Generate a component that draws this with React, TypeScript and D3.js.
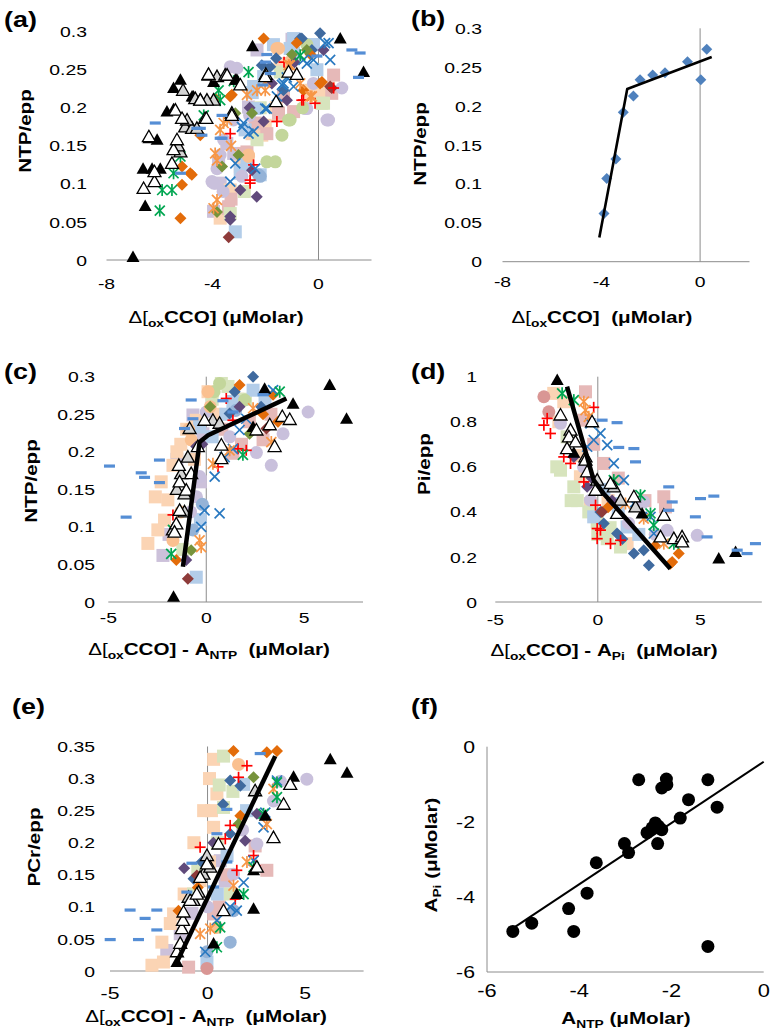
import React from "react";
import * as d3 from "d3";

type Pt = [number, number];

// ---------------- Panel (a): NTP/epp vs Δ[oxCCO] ----------------
const A_SERIES: Record<string, Pt[]> = {
  lavSquare: [[-3.96, 0.064], [-2.32, 0.276], [-3.71, 0.101], [-1.0, 0.29], [-3.2, 0.14], [-3.77, 0.127], [-3.46, 0.153], [-2.64, 0.201]],
  peachSquare: [[0.06, 0.223], [0.38, 0.226], [-2.51, 0.166], [-2.01, 0.177], [-3.71, 0.055], [-2.95, 0.123], [-0.3, 0.22], [-1.6, 0.2], [-2.14, 0.164], [-1.51, 0.19], [-0.38, 0.223], [0.0, 0.223], [-3.33, 0.092], [-1.45, 0.258]],
  pinkSquare: [[-3.39, 0.07], [-2.7, 0.142], [-2.39, 0.18], [-1.51, 0.193], [-0.94, 0.195], [0.57, 0.243], [0.5, 0.219], [-1.95, 0.166], [-3.3, 0.08], [-2.83, 0.14], [-1.32, 0.215], [-3.4, 0.068]],
  greenSquare: [[0.13, 0.206], [-3.33, 0.061], [-2.32, 0.158], [-1.44, 0.247], [-2.8, 0.09], [0.19, 0.206], [-2.2, 0.2]],
  blueSquare: [[-3.14, 0.037], [-2.7, 0.127], [-2.39, 0.199], [-2.07, 0.241], [-1.07, 0.278], [-0.19, 0.283], [-0.06, 0.25], [-2.2, 0.112], [-2.95, 0.114], [-0.94, 0.291], [-2.5, 0.22], [-2.45, 0.228], [-1.7, 0.283], [-0.25, 0.283], [-0.94, 0.272], [-2.77, 0.171], [-2.95, 0.118]],
  lavCircle: [[-3.33, 0.254], [-4.02, 0.103], [-3.83, 0.12], [-3.71, 0.138], [-3.58, 0.158], [0.38, 0.184], [0.88, 0.226], [-0.5, 0.199], [-0.19, 0.232], [-2.89, 0.11], [-3.6, 0.09], [-2.6, 0.19], [-3.95, 0.101], [-3.21, 0.184], [-3.08, 0.252], [0.32, 0.184], [-0.44, 0.199]],
  greenCircle: [[-1.38, 0.164], [-1.95, 0.129], [-1.07, 0.184], [-0.44, 0.283], [-0.6, 0.2], [-1.63, 0.129], [-1.13, 0.184]],
  peachCircle: [[-1.57, 0.278], [-2.64, 0.136], [-1.1, 0.26], [-1.51, 0.278], [-2.64, 0.138]],
  blueCircle: [[-2.2, 0.11], [-2.26, 0.112]],
  darkBlueDiamond: [[0.06, 0.298], [-0.69, 0.291], [-1.82, 0.254], [-2.14, 0.256], [-1.32, 0.223], [-0.25, 0.276], [-1.6, 0.265], [-0.63, 0.291]],
  orangeDiamond: [[-5.21, 0.055], [-5.15, 0.099], [-4.84, 0.114], [-5.15, 0.123], [-3.27, 0.217], [-2.07, 0.291], [-3.89, 0.212], [-4.46, 0.164], [-0.57, 0.223], [-0.82, 0.285], [0.06, 0.232], [-0.3, 0.27], [-3.33, 0.215], [-4.78, 0.112], [0.13, 0.234]],
  purpleDiamond: [[-3.33, 0.057], [-2.95, 0.092], [-2.07, 0.182], [-1.19, 0.21], [0.19, 0.276], [-2.6, 0.2], [-0.9, 0.26], [-3.33, 0.053], [-2.51, 0.118], [-2.33, 0.083], [-1.76, 0.232]],
  redDiamond: [[-3.39, 0.03], [0.5, 0.226], [0.44, 0.228]],
  oliveDiamond: [[-3.64, 0.123], [-2.51, 0.193], [-0.44, 0.276], [-1.0, 0.27], [-3.02, 0.138], [-3.14, 0.193], [-3.83, 0.063]],
  redPlus: [[-2.58, 0.105], [-2.45, 0.125], [-1.57, 0.182], [-0.57, 0.21], [-0.13, 0.206], [0.57, 0.226], [-3.33, 0.166], [-1.3, 0.26], [-2.58, 0.101], [-0.63, 0.21]],
  blueX: [[-3.33, 0.103], [-3.14, 0.127], [-2.39, 0.12], [-2.83, 0.18], [-2.45, 0.169], [-1.95, 0.199], [-1.57, 0.215], [-1.32, 0.232], [-0.94, 0.228], [-0.57, 0.263], [-0.19, 0.263], [0.44, 0.263], [0.38, 0.285], [-1.2, 0.24], [-2.89, 0.175], [-2.64, 0.166], [-2.01, 0.199], [-1.38, 0.23], [-0.44, 0.258], [0.25, 0.285]],
  orangeStar: [[-3.83, 0.131], [-3.83, 0.079], [-3.96, 0.068], [-3.45, 0.184], [-3.71, 0.171], [-2.32, 0.223], [-2.7, 0.217], [-2.01, 0.234], [-0.69, 0.232], [-0.25, 0.215], [-1.07, 0.256], [-3.3, 0.15], [-3.9, 0.14], [-3.58, 0.18], [-2.01, 0.223], [-1.13, 0.256], [-0.31, 0.215]],
  greenStar: [[-5.99, 0.065], [-5.9, 0.092], [-5.53, 0.092], [-5.21, 0.136], [-5.47, 0.114], [-4.33, 0.19], [-3.71, 0.21], [-3.77, 0.223], [-2.64, 0.247], [-0.69, 0.269], [-3.2, 0.235]],
  blackTri: [[-7.0, 0.004], [-6.54, 0.071], [-6.62, 0.12], [-6.28, 0.12], [-5.97, 0.12], [-6.4, 0.16], [-6.09, 0.158], [-5.72, 0.195], [-5.47, 0.198], [-5.47, 0.226], [-5.21, 0.237], [-4.77, 0.215], [-3.96, 0.234], [-3.08, 0.237], [-2.49, 0.281], [0.82, 0.291], [1.7, 0.247], [-4.72, 0.215], [-3.14, 0.237]],
  grayTri: [[-5.03, 0.175], [-4.77, 0.173], [-5.21, 0.142], [-5.11, 0.223], [-3.83, 0.241], [-4.96, 0.184], [-3.96, 0.21], [-4.65, 0.212], [-4.59, 0.173], [-5.3, 0.15], [-4.15, 0.243], [-3.52, 0.243], [-4.46, 0.21], [-4.21, 0.21], [-4.28, 0.186]],
  whiteTri: [[-6.6, 0.094], [-6.19, 0.103], [-6.19, 0.116], [-6.4, 0.162], [-5.53, 0.127], [-5.47, 0.145], [-5.34, 0.158], [-5.4, 0.197], [-5.15, 0.186], [-4.46, 0.21], [-4.23, 0.186], [-4.15, 0.244], [-3.45, 0.243], [-3.27, 0.193], [-2.95, 0.23], [-1.99, 0.244], [-1.6, 0.208], [-1.13, 0.247], [-0.82, 0.244], [-2.01, 0.241], [-3.27, 0.19]],
  blueDash: [[-6.16, 0.18], [-5.21, 0.114], [-4.59, 0.173], [-4.4, 0.164], [-3.64, 0.19], [-3.64, 0.16], [-1.95, 0.27], [1.26, 0.276], [1.57, 0.272], [1.51, 0.24], [-0.06, 0.268], [-2.1, 0.23], [-2.0, 0.26], [-3.71, 0.16], [-4.46, 0.173], [-1.82, 0.245]],
};

// ---------------- Panel (b): single subject ----------------
const B_POINTS: Pt[] = [[-3.89, 0.062], [-3.78, 0.107], [-3.41, 0.132], [-3.11, 0.192], [-2.7, 0.213], [-2.43, 0.234], [-1.92, 0.24], [-1.42, 0.243], [-0.51, 0.257], [0.03, 0.234], [0.27, 0.273]];
const B_FIT: Pt[] = [[-4.08, 0.031], [-2.95, 0.222], [0.47, 0.263]];

// ---------------- Panel (c): NTP/epp vs Δ[oxCCO] - A_NTP ----------------
const C_SERIES: Record<string, Pt[]> = {
  lavSquare: [[-2.21, 0.062], [-0.68, 0.249], [-0.17, 0.224], [-1.9, 0.09], [-1.5, 0.19], [-0.3, 0.16]],
  peachSquare: [[-2.98, 0.078], [-2.13, 0.109], [-1.96, 0.136], [-1.7, 0.182], [0.09, 0.28], [-0.51, 0.242], [-2.47, 0.096], [-2.6, 0.14], [-2.3, 0.16], [-1.5, 0.2], [-1.0, 0.23], [-0.6, 0.19], [-1.3, 0.21], [0.5, 0.25], [1.6, 0.27]],
  pinkSquare: [[2.9, 0.216], [1.36, 0.198], [2.2, 0.24], [1.8, 0.21], [3.3, 0.25], [0.8, 0.23]],
  greenSquare: [[0.77, 0.291], [1.11, 0.287], [-1.2, 0.07], [0.3, 0.27], [2.0, 0.27]],
  blueSquare: [[-0.51, 0.033], [-0.34, 0.233], [2.39, 0.282], [1.36, 0.267], [-0.3, 0.11], [1.0, 0.25], [3.0, 0.27], [0.3, 0.22]],
  lavCircle: [[5.2, 0.253], [3.92, 0.224], [3.32, 0.182], [2.56, 0.199], [0.0, 0.253], [-0.34, 0.167], [-0.5, 0.14], [1.2, 0.22], [-0.8, 0.12]],
  greenCircle: [[0.68, 0.291], [1.96, 0.269], [0.4, 0.28]],
  peachCircle: [[0.09, 0.28], [-0.77, 0.216], [-1.7, 0.082], [-0.9, 0.23], [0.2, 0.26], [-1.3, 0.12]],
  blueCircle: [[-0.68, 0.096], [-0.2, 0.13], [1.5, 0.255]],
  darkBlueDiamond: [[2.39, 0.3], [1.19, 0.251], [1.45, 0.28], [2.8, 0.26]],
  orangeDiamond: [[1.7, 0.289], [3.41, 0.276], [3.66, 0.24], [-1.53, 0.056], [2.9, 0.25]],
  purpleDiamond: [[-1.02, 0.056], [-0.51, 0.207], [1.7, 0.26], [-0.2, 0.21]],
  redDiamond: [[-0.94, 0.031], [3.07, 0.231]],
  oliveDiamond: [[-0.77, 0.069], [2.21, 0.224], [0.2, 0.26]],
  redPlus: [[-1.7, 0.116], [0.6, 0.18], [1.36, 0.242], [1.62, 0.204], [2.04, 0.202], [1.02, 0.271]],
  blueX: [[-0.26, 0.1], [-0.09, 0.122], [0.68, 0.118], [0.43, 0.167], [0.94, 0.193], [1.36, 0.204], [1.7, 0.229], [3.41, 0.282], [2.04, 0.244]],
  orangeStar: [[-0.34, 0.082], [-0.26, 0.073], [0.34, 0.184], [1.19, 0.202], [3.32, 0.213], [2.39, 0.258]],
  greenStar: [[-1.79, 0.064], [1.87, 0.196], [3.75, 0.28], [-1.7, 0.096]],
  blackTri: [[-1.67, 0.007], [6.3, 0.289], [7.16, 0.244], [4.43, 0.264], [2.98, 0.284], [2.39, 0.233]],
  grayTri: [[-0.85, 0.231], [0.34, 0.242], [-1.28, 0.171], [-1.11, 0.144], [-1.7, 0.096], [-1.11, 0.12], [-0.94, 0.193], [0.68, 0.238], [-1.5, 0.15]],
  whiteTri: [[-1.4, 0.182], [-1.36, 0.16], [-1.53, 0.104], [-1.62, 0.093], [-1.36, 0.122], [-1.02, 0.149], [-0.77, 0.171], [-0.43, 0.207], [-0.09, 0.242], [0.77, 0.209], [0.77, 0.191], [3.24, 0.236], [3.88, 0.247], [3.49, 0.207], [4.26, 0.243], [2.56, 0.229]],
  blueDash: [[-4.94, 0.181], [-3.32, 0.172], [-3.15, 0.166], [-2.39, 0.159], [-4.09, 0.113], [-2.39, 0.189], [-0.77, 0.269], [0.85, 0.268], [1.36, 0.253], [2.9, 0.276], [-0.68, 0.244], [-1.11, 0.231]],
};
const C_FIT: Pt[] = [[-1.19, 0.047], [-0.34, 0.213], [0.09, 0.222], [4.09, 0.271]];

// ---------------- Panel (d): Pi/epp vs Δ[oxCCO] - A_Pi ----------------
const D_SERIES: Record<string, Pt[]> = {
  peachSquare: [[-2.15, 0.926], [-1.66, 0.889], [1.43, 0.259], [-0.36, 0.437], [-0.85, 0.556], [-1.9, 0.8], [-1.0, 0.65], [0.5, 0.45]],
  pinkSquare: [[-0.6, 0.933], [-0.68, 0.807], [3.22, 0.467], [3.3, 0.422], [0.29, 0.615], [-0.2, 0.7], [1.0, 0.55], [2.3, 0.45]],
  greenSquare: [[-1.82, 0.585], [-1.17, 0.511], [-0.44, 0.4], [-0.03, 0.356], [0.46, 0.281], [1.11, 0.244], [-1.5, 0.733], [-1.3, 0.45], [-2.0, 0.6], [-1.0, 0.45], [0.0, 0.3], [0.6, 0.33]],
  blueSquare: [[0.78, 0.437], [1.43, 0.333], [-0.2, 0.378], [0.3, 0.5], [1.0, 0.4], [2.0, 0.3]],
  lavCircle: [[2.24, 0.444], [3.38, 0.319], [4.85, 0.296], [-0.36, 0.452], [-1.82, 0.793], [-0.7, 0.6], [1.5, 0.35], [2.8, 0.3]],
  roseCircle: [[-2.63, 0.911], [-2.39, 0.844]],
  darkBlueDiamond: [[0.13, 0.4], [0.94, 0.304], [1.76, 0.215], [2.49, 0.163], [2.24, 0.23], [0.29, 0.348], [1.2, 0.28]],
  orangeDiamond: [[3.63, 0.178], [3.95, 0.215], [3.54, 0.17], [0.5, 0.42], [2.8, 0.25]],
  purpleDiamond: [[-1.17, 0.644], [-0.52, 0.511], [-0.3, 0.55], [0.7, 0.45]],
  redDiamond: [[0.2, 0.4]],
  redPlus: [[-2.63, 0.785], [-2.47, 0.815], [-2.31, 0.748], [-1.66, 0.644], [-1.33, 0.615], [-0.11, 0.43], [-0.03, 0.326], [-0.03, 0.281], [0.13, 0.319], [0.62, 0.259], [1.11, 0.274], [-0.68, 0.533], [-0.2, 0.864]],
  blueX: [[-0.52, 0.689], [-0.2, 0.719], [0.13, 0.748], [0.46, 0.696], [0.78, 0.615], [1.27, 0.541], [1.76, 0.437], [2.57, 0.378], [2.73, 0.304], [-0.36, 0.793]],
  orangeStar: [[-0.68, 0.889], [-0.6, 0.852], [-0.44, 0.822], [1.35, 0.437], [2.24, 0.37], [3.22, 0.259]],
  greenStar: [[-1.74, 0.926], [-1.17, 0.896], [2.08, 0.474], [2.57, 0.393], [2.73, 0.341], [3.71, 0.259], [0.78, 0.541]],
  blackTri: [[-1.98, 0.985], [-1.17, 0.662], [2.16, 0.393], [5.9, 0.193], [6.72, 0.222]],
  grayTri: [[-0.6, 0.644], [-0.03, 0.541], [0.78, 0.511], [1.84, 0.422], [1.11, 0.452]],
  whiteTri: [[-1.82, 0.83], [-1.33, 0.763], [-1.41, 0.733], [-1.09, 0.711], [-1.5, 0.681], [-0.6, 0.63], [-0.52, 0.578], [-0.11, 0.496], [0.62, 0.526], [0.94, 0.393], [1.76, 0.467], [3.22, 0.385], [3.06, 0.289], [3.71, 0.281], [4.11, 0.289], [4.11, 0.267], [-0.28, 0.8]],
  blueDash: [[0.21, 0.807], [0.94, 0.796], [1.02, 0.686], [1.76, 0.681], [1.84, 0.622], [3.46, 0.511], [3.63, 0.444], [3.46, 0.407], [4.76, 0.378], [5.01, 0.459], [5.66, 0.47], [5.33, 0.289], [6.8, 0.23], [7.28, 0.215], [7.69, 0.259]],
};
const D_FIT: Pt[] = [[-1.5, 0.956], [-0.2, 0.541], [0.29, 0.481], [3.54, 0.148]];

// ---------------- Panel (e): PCr/epp vs Δ[oxCCO] - A_NTP ----------------
const E_SERIES: Record<string, Pt[]> = {
  lavSquare: [[-2.09, 0.032], [-1.4, 0.058], [0.65, 0.172], [-0.8, 0.09], [0.9, 0.14]],
  peachSquare: [[-2.85, 0.009], [-2.26, 0.014], [-2.34, 0.045], [-1.91, 0.074], [-1.74, 0.089], [0.31, 0.33], [0.48, 0.276], [0.31, 0.224], [-0.38, 0.141], [0.1, 0.3], [0.2, 0.25], [-1.2, 0.12], [-0.7, 0.2], [-0.2, 0.25], [0.1, 0.17]],
  pinkSquare: [[-0.97, 0.006], [3.04, 0.157], [2.44, 0.195], [0.31, 0.089], [1.0, 0.15], [0.6, 0.1]],
  greenSquare: [[0.82, 0.335], [0.82, 0.255], [-0.72, 0.12], [1.16, 0.12], [0.6, 0.29], [0.5, 0.2], [1.3, 0.28], [-0.5, 0.16]],
  blueSquare: [[-0.03, 0.014], [1.85, 0.291], [1.0, 0.18], [2.0, 0.25], [0.5, 0.12]],
  lavCircle: [[5.09, 0.299], [3.73, 0.296], [2.53, 0.198], [1.33, 0.151], [3.38, 0.265], [0.0, 0.1], [1.8, 0.22]],
  peachCircle: [[1.59, 0.322], [0.48, 0.068]],
  roseCircle: [[-0.03, 0.004]],
  blueCircle: [[1.16, 0.045], [1.33, 0.094], [-0.03, 0.03]],
  darkBlueDiamond: [[1.16, 0.214], [1.68, 0.289], [-0.72, 0.144], [1.16, 0.297], [0.8, 0.26], [-0.3, 0.17]],
  orangeDiamond: [[3.04, 0.341], [3.56, 0.343], [1.68, 0.242], [-1.49, 0.094], [1.33, 0.343], [-0.5, 0.13]],
  purpleDiamond: [[1.93, 0.203], [2.53, 0.245], [0.3, 0.2], [-1.2, 0.16]],
  redDiamond: [[-0.55, 0.149]],
  oliveDiamond: [[1.59, 0.229], [2.36, 0.302]],
  redPlus: [[2.02, 0.32], [1.59, 0.302], [1.16, 0.227], [0.91, 0.206], [2.36, 0.18], [2.44, 0.164], [1.5, 0.157], [1.42, 0.112], [-0.38, 0.193]],
  blueX: [[-0.12, 0.03], [1.16, 0.1], [1.5, 0.094], [1.85, 0.138], [2.36, 0.172], [2.87, 0.224], [2.96, 0.247], [3.56, 0.297], [0.48, 0.079]],
  orangeStar: [[-0.38, 0.058], [0.14, 0.066], [1.33, 0.133], [2.02, 0.17], [3.04, 0.229], [3.38, 0.284]],
  greenStar: [[0.48, 0.037], [0.65, 0.068], [1.85, 0.12], [2.36, 0.162], [2.87, 0.245], [3.56, 0.271], [3.56, 0.294]],
  blackTri: [[6.29, 0.33], [7.15, 0.309], [4.41, 0.303], [2.96, 0.242], [2.36, 0.097], [1.5, 0.12], [-1.57, 0.014], [0.31, 0.043], [2.36, 0.157]],
  grayTri: [[-0.97, 0.115], [-0.46, 0.123], [-0.21, 0.151], [-0.03, 0.18], [0.14, 0.162], [-0.72, 0.11], [2.44, 0.281]],
  whiteTri: [[4.24, 0.291], [3.9, 0.26], [3.38, 0.208], [0.56, 0.198], [-1.57, 0.03], [-1.4, 0.043], [-1.32, 0.066], [-1.26, 0.079], [-0.89, 0.11], [-0.55, 0.12], [-0.38, 0.146], [-0.03, 0.167], [0.82, 0.094], [2.53, 0.162], [-1.23, 0.092]],
  blueDash: [[-3.97, 0.095], [-2.6, 0.095], [-3.2, 0.082], [-2.6, 0.064], [-4.99, 0.049], [-3.54, 0.049], [-0.8, 0.168], [0.99, 0.17], [0.48, 0.214], [0.99, 0.252], [2.7, 0.339], [-1.06, 0.123], [0.31, 0.131]],
};
const E_FIT: Pt[] = [[-1.57, 0.014], [3.47, 0.335]];

// ---------------- Panel (f): A_Pi vs A_NTP ----------------
const F_ANTP: number[] = [-5.44, -5.03, -4.23, -4.12, -3.83, -3.63, -3.02, -2.93, -2.71, -2.53, -2.42, -2.35, -2.3, -2.28, -2.21, -2.21, -2.11, -2.1, -1.81, -1.63, -1.21, -1.01, -1.21];
const F_API: number[] = [-4.92, -4.7, -4.31, -4.92, -3.9, -3.09, -2.58, -2.82, -0.88, -2.29, -2.16, -2.03, -2.58, -2.12, -2.21, -1.1, -0.86, -1.01, -1.9, -1.41, -0.88, -1.61, -5.32];
const F_FIT: Pt[] = [[-5.44, -4.84], [0, -0.4]];

// ---------------- tick values ----------------
const TICKS_NTP = [0, 0.05, 0.1, 0.15, 0.2, 0.25, 0.3];
const TICKS_PI = [0, 0.2, 0.4, 0.6, 0.8, 1];
const TICKS_PCR = [0, 0.05, 0.1, 0.15, 0.2, 0.25, 0.3, 0.35];
const TICKS_X_AB = [-8, -4, 0];
const TICKS_X_CDE = [-5, 0, 5];
const TICKS_F = [-6, -4, -2, 0];

// ---------------- styles ----------------
type Style = { shape: string; fill?: string; stroke?: string };
const STYLES: Record<string, Style> = {
  lavSquare: { shape: "square", fill: "#ccc1da" },
  peachSquare: { shape: "square", fill: "#fbd4b4" },
  pinkSquare: { shape: "square", fill: "#e6b9b8" },
  greenSquare: { shape: "square", fill: "#d7e4bd" },
  blueSquare: { shape: "square", fill: "#b3cde9" },
  lavCircle: { shape: "circle", fill: "#c9c0dc" },
  greenCircle: { shape: "circle", fill: "#c3d69b" },
  peachCircle: { shape: "circle", fill: "#fac090" },
  roseCircle: { shape: "circle", fill: "#d99694" },
  blueCircle: { shape: "circle", fill: "#95b3d7" },
  darkBlueDiamond: { shape: "diamond", fill: "#3f6a9f" },
  orangeDiamond: { shape: "diamond", fill: "#e36c0a" },
  purpleDiamond: { shape: "diamond", fill: "#604a7b" },
  redDiamond: { shape: "diamond", fill: "#8e3b3a" },
  oliveDiamond: { shape: "diamond", fill: "#77933c" },
  redPlus: { shape: "plus", stroke: "#ff0000" },
  blueX: { shape: "x", stroke: "#2878c0" },
  orangeStar: { shape: "star", stroke: "#f79646" },
  greenStar: { shape: "star", stroke: "#00a651" },
  blackTri: { shape: "tri", fill: "#000000" },
  grayTri: { shape: "tri", fill: "#d4d4d4", stroke: "#000" },
  whiteTri: { shape: "tri", fill: "#ffffff", stroke: "#000" },
  blueDash: { shape: "dash", fill: "#558ed5" },
};
const ORDER = Object.keys(STYLES);

const FONT = "'Liberation Sans', Arial, Helvetica, sans-serif";
const STRETCH = 1.25;
const AXIS = "#8c8c8c";

function Txt(props: any) {
  const { x, y, size, bold, anchor = "start", rotate = 0, children } = props;
  return (
    <text
      transform={`translate(${x},${y}) rotate(${rotate}) scale(${STRETCH},1)`}
      fontSize={size}
      fontWeight={bold ? "bold" : "normal"}
      textAnchor={anchor}
      fontFamily={FONT}
      fill="#000"
      xmlSpace="preserve"
    >
      {children}
    </text>
  );
}

function Marker({ st, cx, cy }: { st: Style; cx: number; cy: number }) {
  const s = st.shape;
  if (s === "square") return <rect x={cx - 6.5} y={cy - 6.5} width={13} height={13} fill={st.fill} />;
  if (s === "circle") return <circle cx={cx} cy={cy} r={6.5} fill={st.fill} />;
  if (s === "diamond")
    return <path d={`M${cx},${cy - 6}L${cx + 6},${cy}L${cx},${cy + 6}L${cx - 6},${cy}Z`} fill={st.fill} />;
  if (s === "tri")
    return (
      <path
        d={`M${cx},${cy - 6.5}L${cx + 6.5},${cy + 5}L${cx - 6.5},${cy + 5}Z`}
        fill={st.fill}
        stroke={st.stroke || "none"}
        strokeWidth={1.3}
        strokeLinejoin="miter"
      />
    );
  if (s === "dash") return <rect x={cx - 5.5} y={cy - 1.6} width={11} height={3.2} fill={st.fill} />;
  const r = 5;
  const lines: number[][] = [];
  if (s === "x" || s === "star") {
    lines.push([cx - r, cy - r, cx + r, cy + r], [cx - r, cy + r, cx + r, cy - r]);
  }
  if (s === "plus") {
    lines.push([cx - r - 0.5, cy, cx + r + 0.5, cy], [cx, cy - r - 0.5, cx, cy + r + 0.5]);
  }
  if (s === "star") lines.push([cx, cy - r - 1, cx, cy + r + 1]);
  return (
    <g stroke={st.stroke} strokeWidth={1.7}>
      {lines.map((l, i) => (
        <line key={i} x1={l[0]} y1={l[1]} x2={l[2]} y2={l[3]} />
      ))}
    </g>
  );
}

const OX = (
  <>
    <tspan fontWeight="normal">Δ[</tspan>
    <tspan fontSize={11} dy={4}>ox</tspan>
    <tspan dy={-4}>CCO]</tspan>
  </>
);

function Panel(props: any) {
  const {
    xr, yr, xDomain, yDomain, xTicks, yTicks, yTickRight, xTickBase, xTickSize = 15.5, yTickSize = 15.5,
    series, single, fit, fitWidth, box, label, labelX, labelY, xTitle, xTitleX, xTitleY, yTitle, yTitleX, yTitleY,
  } = props;
  const x = d3.scaleLinear().domain(xDomain).range(xr);
  const y = d3.scaleLinear().domain(yDomain).range(yr);
  const line = d3.line<Pt>().x((d) => x(d[0])).y((d) => y(d[1]));
  const fmt = (v: number) => String(+v.toFixed(2));
  return (
    <g>
      {box ? (
        <>
          <line x1={x(xDomain[0])} x2={x(xDomain[0])} y1={y(yDomain[0])} y2={y(yDomain[1])} stroke={AXIS} strokeWidth={1} />
          <line x1={x(xDomain[0])} x2={x(xDomain[1])} y1={y(yDomain[0])} y2={y(yDomain[0])} stroke={AXIS} strokeWidth={1} />
        </>
      ) : (
        <>
          <line x1={x(0)} x2={x(0)} y1={y(yDomain[0])} y2={y(yDomain[1])} stroke={AXIS} strokeWidth={1} />
          <line x1={x(xDomain[0])} x2={x(xDomain[1])} y1={y(yDomain[0])} y2={y(yDomain[0])} stroke={AXIS} strokeWidth={1} />
        </>
      )}
      {yTicks.map((t: number) => (
        <Txt key={"y" + t} x={yTickRight} y={y(t) + yTickSize * 0.36} size={yTickSize} anchor="end">
          {fmt(t)}
        </Txt>
      ))}
      {xTicks.map((t: number) => (
        <Txt key={"x" + t} x={x(t)} y={xTickBase} size={xTickSize} anchor="middle">
          {fmt(t)}
        </Txt>
      ))}
      {series &&
        ORDER.filter((k) => series[k]).map((k) => (
          <g key={k}>
            {series[k].map((d: Pt, i: number) => (
              <Marker key={i} st={STYLES[k]} cx={x(d[0])} cy={y(d[1])} />
            ))}
          </g>
        ))}
      {single &&
        single.pts.map((d: Pt, i: number) =>
          single.shape === "circle" ? (
            <circle key={i} cx={x(d[0])} cy={y(d[1])} r={6.5} fill={single.fill} />
          ) : (
            <path
              key={i}
              d={`M${x(d[0])},${y(d[1]) - 5.5}l5.5,5.5l-5.5,5.5l-5.5,-5.5Z`}
              fill={single.fill}
            />
          )
        )}
      {fit && <path d={line(fit) || ""} fill="none" stroke="#000" strokeWidth={fitWidth} strokeLinejoin="round" />}
      <Txt x={labelX} y={labelY} size={21.5} bold>
        {label}
      </Txt>
      <Txt x={xTitleX} y={xTitleY} size={16.5} bold anchor="middle">
        {xTitle}
      </Txt>
      <Txt x={yTitleX} y={yTitleY} size={16.5} bold anchor="middle" rotate={-90}>
        {yTitle}
      </Txt>
    </g>
  );
}

export default function App() {
  const fPts: Pt[] = F_ANTP.map((v, i) => [v, F_API[i]]);
  return (
    <svg width={774} height={1034} style={{ position: "absolute", left: 0, top: 0, background: "#fff" }}>
      <rect width={774} height={1034} fill="#fff" />
      <Panel
        xr={[106.5, 371.5]} yr={[260, 31.7]} xDomain={[-8, 2]} yDomain={[0, 0.3]}
        xTicks={TICKS_X_AB} yTicks={TICKS_NTP} yTickRight={87} xTickBase={289}
        series={A_SERIES} label="(a)" labelX={4} labelY={27}
        xTitle={<>{OX}<tspan>{" (μMolar)"}</tspan></>} xTitleX={216} xTitleY={323}
        yTitle="NTP/epp" yTitleX={31} yTitleY={131}
      />
      <Panel
        xr={[502.5, 749.5]} yr={[261.7, 28.3]} xDomain={[-8, 2]} yDomain={[0, 0.3]}
        xTicks={TICKS_X_AB} yTicks={TICKS_NTP} yTickRight={482} xTickBase={287}
        single={{ pts: B_POINTS, shape: "diamond", fill: "#4f81bd" }} fit={B_FIT} fitWidth={2.6}
        label="(b)" labelX={411} labelY={26}
        xTitle={<>{OX}<tspan>{"  (μMolar)"}</tspan></>} xTitleX={602} xTitleY={323}
        yTitle="NTP/epp" yTitleX={426} yTitleY={144}
      />
      <Panel
        xr={[108.3, 363]} yr={[602, 376.7]} xDomain={[-5, 8]} yDomain={[0, 0.3]}
        xTicks={TICKS_X_CDE} yTicks={TICKS_NTP} yTickRight={95} xTickBase={623}
        series={C_SERIES} fit={C_FIT} fitWidth={4.5}
        label="(c)" labelX={4} labelY={379}
        xTitle={<>{OX}<tspan>{" - A"}</tspan><tspan fontSize={11} dy={4}>NTP</tspan><tspan dy={-4}>{"  (μMolar)"}</tspan></>}
        xTitleX={209} xTitleY={655}
        yTitle="NTP/epp" yTitleX={37} yTitleY={481}
      />
      <Panel
        xr={[495.3, 761.8]} yr={[602, 376.7]} xDomain={[-5, 8]} yDomain={[0, 1]}
        xTicks={TICKS_X_CDE} yTicks={TICKS_PI} yTickRight={477} xTickBase={625}
        series={D_SERIES} fit={D_FIT} fitWidth={4.5}
        label="(d)" labelX={411} labelY={379}
        xTitle={<>{OX}<tspan>{" - A"}</tspan><tspan fontSize={11} dy={4}>Pi</tspan><tspan dy={-4}>{"  (μMolar)"}</tspan></>}
        xTitleX={604} xTitleY={656}
        yTitle="Pi/epp" yTitleX={430} yTitleY={464}
      />
      <Panel
        xr={[110, 363.6]} yr={[971, 746.5]} xDomain={[-5, 8]} yDomain={[0, 0.35]}
        xTicks={TICKS_X_CDE} yTicks={TICKS_PCR} yTickRight={95} xTickBase={999} xTickSize={17}
        series={E_SERIES} fit={E_FIT} fitWidth={4.5}
        label="(e)" labelX={12} labelY={714}
        xTitle={<>{OX}<tspan>{" - A"}</tspan><tspan fontSize={11} dy={4}>NTP</tspan><tspan dy={-4}>{"  (μMolar)"}</tspan></>}
        xTitleX={206} xTitleY={1022}
        yTitle="PCr/epp" yTitleX={40} yTitleY={847}
      />
      <Panel
        xr={[487, 763.7]} yr={[972, 746.7]} xDomain={[-6, 0]} yDomain={[-6, 0]} box
        xTicks={TICKS_F} yTicks={TICKS_F} yTickRight={475} xTickBase={997} xTickSize={17.5} yTickSize={17}
        single={{ pts: fPts, shape: "circle", fill: "#000" }} fit={F_FIT} fitWidth={2}
        label="(f)" labelX={411} labelY={714}
        xTitle={<><tspan>A</tspan><tspan fontSize={11} dy={4}>NTP</tspan><tspan dy={-4}>{" (μMolar)"}</tspan></>}
        xTitleX={626} xTitleY={1024}
        yTitle={<><tspan>A</tspan><tspan fontSize={11} dy={4}>Pi</tspan><tspan dy={-4}>{" (μMolar)"}</tspan></>}
        yTitleX={437} yTitleY={855}
      />
    </svg>
  );
}
